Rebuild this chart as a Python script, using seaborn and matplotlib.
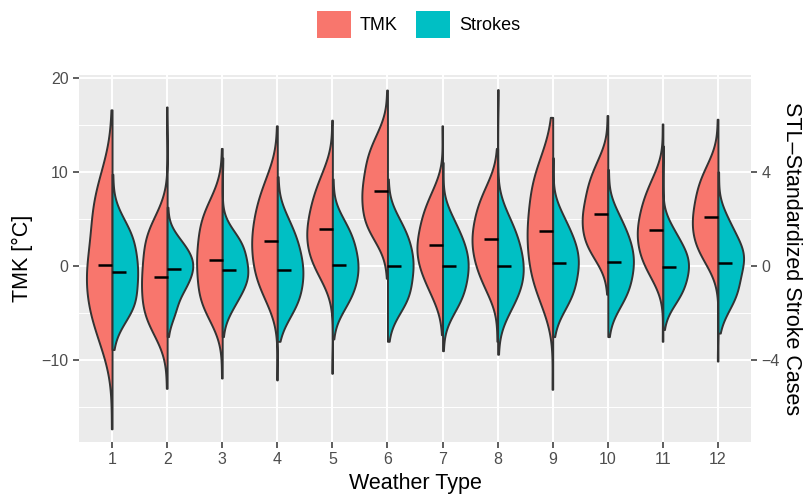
import numpy as np
import pandas as pd
import seaborn as sns
import matplotlib.pyplot as plt
import matplotlib.patches as mpatches

weather_types = [str(i) for i in range(1, 13)]

# TMK [°C] per weather type: min, 10/25/50/75/90 % quantiles, max
tmk_min = [-17.3, -13.0, -11.9, -12.1, -11.4, -1.3, -7.3, -8.0, -13.1, -3.0, -8.0, -10.1]
tmk_q10 = [-7.5, -6.5, -5.0, -3.0, -0.8, 3.3, -2.8, -2.3, -3.3, 1.2, -0.8, 0.8]
tmk_q25 = [-4.0, -4.5, -2.8, -0.5, 1.3, 5.2, -0.3, 0.2, -0.2, 3.0, 1.3, 2.7]
tmk_med = [0.1, -1.2, 0.6, 2.7, 3.9, 8.0, 2.2, 2.9, 3.7, 5.5, 3.8, 5.2]
tmk_q75 = [5.3, 2.3, 4.0, 6.0, 6.8, 11.0, 5.0, 5.7, 7.8, 8.3, 6.5, 8.0]
tmk_q90 = [9.2, 4.5, 6.5, 9.0, 9.5, 13.5, 7.5, 8.2, 11.0, 10.8, 9.0, 10.3]
tmk_max = [16.6, 16.9, 12.5, 14.9, 15.5, 18.7, 14.9, 12.5, 15.8, 16.0, 15.1, 15.6]

# STL-standardized stroke cases, same summary
stroke_min = [-3.55, -3.0, -3.0, -3.2, -3.1, -3.2, -3.6, -3.75, -3.0, -3.0, -2.7, -2.85]
stroke_q10 = [-2.1, -1.9, -1.7, -2.0, -1.7, -1.8, -1.8, -1.8, -1.7, -1.6, -1.5, -1.7]
stroke_q25 = [-1.4, -0.9, -0.9, -1.2, -0.9, -1.05, -1.0, -0.95, -0.9, -0.8, -0.85, -0.9]
stroke_med = [-0.24, -0.14, -0.16, -0.17, 0.03, 0.0, 0.0, 0.0, 0.11, 0.19, -0.03, 0.14]
stroke_q75 = [0.9, 0.5, 0.7, 0.9, 1.0, 1.0, 0.95, 1.05, 1.05, 1.15, 0.7, 0.95]
stroke_q90 = [1.8, 1.1, 1.3, 1.9, 1.85, 1.9, 1.9, 2.0, 2.0, 2.1, 1.5, 1.9]
stroke_max = [3.9, 2.5, 4.6, 3.8, 3.7, 3.7, 4.4, 7.5, 4.6, 4.1, 5.1, 4.0]

# how many observations each summary point stands for (peaked like the violins)
point_weights = [1, 11, 20, 25, 20, 11, 1]
stroke_scale = 2.5  # secondary axis: strokes * 2.5 on the TMK scale

colors = {"TMK": "#F8766D", "Strokes": "#00BFC4"}

# long table for seaborn
rows = []
for i, wt in enumerate(weather_types):
    tmk_pts = [tmk_min[i], tmk_q10[i], tmk_q25[i], tmk_med[i], tmk_q75[i], tmk_q90[i], tmk_max[i]]
    st_pts = [stroke_min[i], stroke_q10[i], stroke_q25[i], stroke_med[i],
              stroke_q75[i], stroke_q90[i], stroke_max[i]]
    for v in np.repeat(tmk_pts, point_weights):
        rows.append((wt, "TMK", v))
    for v in np.repeat(st_pts, point_weights):
        rows.append((wt, "Strokes", v * stroke_scale))
df = pd.DataFrame(rows, columns=["wt", "var", "value"])

plt.rcParams["font.family"] = ["Liberation Sans", "DejaVu Sans"]

fig = plt.figure(figsize=(8.05, 5.0), dpi=100)
ax = fig.add_axes([79 / 805, 58 / 500, 672 / 805, 367 / 500])
ax.set_facecolor("#EBEBEB")

sns.violinplot(data=df, x="wt", y="value", hue="var", hue_order=["TMK", "Strokes"],
               order=weather_types, split=True, inner=None, cut=0, bw_method=0.55,
               density_norm="width", width=0.93, palette=colors, saturation=1,
               linewidth=1.4, linecolor="#333333", legend=False, ax=ax)

sns.pointplot(data=df, x="wt", y="value", hue="var", hue_order=["TMK", "Strokes"],
              order=weather_types, estimator="median", errorbar=None, dodge=0.24,
              markers="_", linestyles="none", palette={"TMK": "black", "Strokes": "black"},
              markersize=9.5, markeredgewidth=1.8, legend=False, ax=ax)

ax.set_xlim(-0.6, 11.6)
ax.set_ylim(-18.7, 20.3)
ax.set_yticks([-10, 0, 10, 20])
ax.set_yticks([-15, -5, 5, 15], minor=True)
ax.set_axisbelow(True)
ax.grid(which="major", color="white", lw=1.4)
ax.grid(which="minor", axis="y", color="white", lw=0.7)
ax.tick_params(which="major", colors="#333333", labelcolor="#4D4D4D", length=4,
               width=1.1, labelsize=11.5)
ax.tick_params(which="minor", length=0)
for s in ax.spines.values():
    s.set_visible(False)
ax.set_xlabel("Weather Type", fontsize=15.5, labelpad=4)
ax.set_ylabel("TMK [°C]", fontsize=15.5, labelpad=6)

sec = ax.secondary_yaxis("right", functions=(lambda y: y / stroke_scale,
                                             lambda s: s * stroke_scale))
sec.set_yticks([-4, 0, 4])
sec.tick_params(colors="#333333", labelcolor="#4D4D4D", length=4, width=1.1, labelsize=11.5)
for s in sec.spines.values():
    s.set_visible(False)
sec.set_ylabel("STL–Standardized Stroke Cases", fontsize=15.5, rotation=270, labelpad=16)

handles = [mpatches.Patch(facecolor=colors[k], edgecolor="none", label=k) for k in ["TMK", "Strokes"]]
fig.legend(handles=handles, loc="upper center", bbox_to_anchor=(0.52, 1.0), ncol=2,
           frameon=False, fontsize=13, handlelength=1.9, handleheight=1.9,
           handletextpad=0.5, columnspacing=1.0, borderaxespad=0.2)

fig.savefig("out.png", dpi=100)
